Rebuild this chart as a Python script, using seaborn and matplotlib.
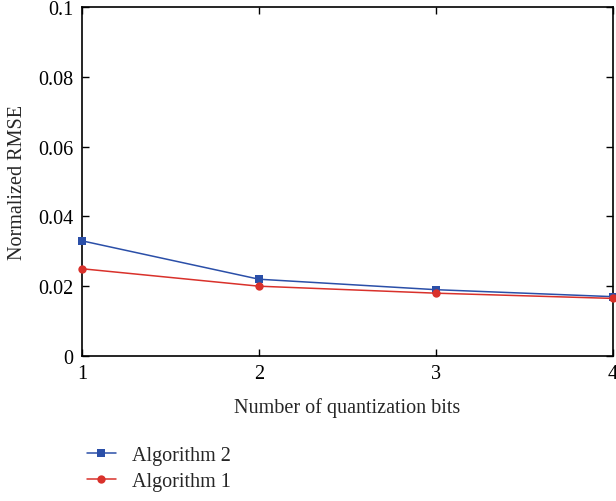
import matplotlib
matplotlib.use("Agg")
import matplotlib.pyplot as plt
import seaborn as sns
import pandas as pd

bits = [1, 2, 3, 4]
alg2 = [0.033, 0.022, 0.019, 0.017]
alg1 = [0.025, 0.020, 0.018, 0.0165]
series_names = ["Algorithm 2", "Algorithm 1"]
yticks = [0, 0.02, 0.04, 0.06, 0.08, 0.1]
ytick_labels = ["0", "0.02", "0.04", "0.06", "0.08", "0.1"]

sns.set_theme(style="white")
plt.rcParams['font.family'] = ['Liberation Serif', 'DejaVu Serif']

df = pd.DataFrame({
    "bits": bits * 2,
    "rmse": alg2 + alg1,
    "series": [series_names[0]] * 4 + [series_names[1]] * 4,
})

fig = plt.figure(figsize=(6.16, 5.02), dpi=100)
ax = fig.add_axes([82/616, 1 - 357/502, (613-82)/616, (357-8)/502])

palette = {"Algorithm 2": "#2b4fa8", "Algorithm 1": "#d9312b"}
markers = {"Algorithm 2": "s", "Algorithm 1": "o"}
sns.lineplot(data=df, x="bits", y="rmse", hue="series", style="series",
             palette=palette, markers=markers, dashes=False, markersize=6,
             markeredgewidth=0, linewidth=1.1, ax=ax, clip_on=False, zorder=5)

ax.set_xlim(1, 4)
ax.set_ylim(0, 0.1)
ax.set_xticks(bits)
ax.set_xticklabels([str(b) for b in bits])
ax.set_yticks(yticks)
ax.set_yticklabels(ytick_labels)
ax.tick_params(direction="in", length=5, width=1, labelsize=14.5, colors="black",
               top=True, right=True, bottom=True, left=True, pad=6)
for s in ax.spines.values():
    s.set_color("black")
    s.set_linewidth(1.2)
    s.set_visible(True)
ax.set_xlabel("Number of quantization bits", fontsize=14.5, labelpad=10)
ax.set_ylabel("Normalized RMSE", fontsize=14.5, labelpad=8)

handles, labels = ax.get_legend_handles_labels()
ax.legend(handles, labels, loc="upper left", bbox_to_anchor=(-0.005, -0.235),
          frameon=False, fontsize=14.5, handlelength=1.4, labelspacing=0.35,
          borderaxespad=0, handletextpad=0.8)

fig.savefig("out.png", dpi=100)
